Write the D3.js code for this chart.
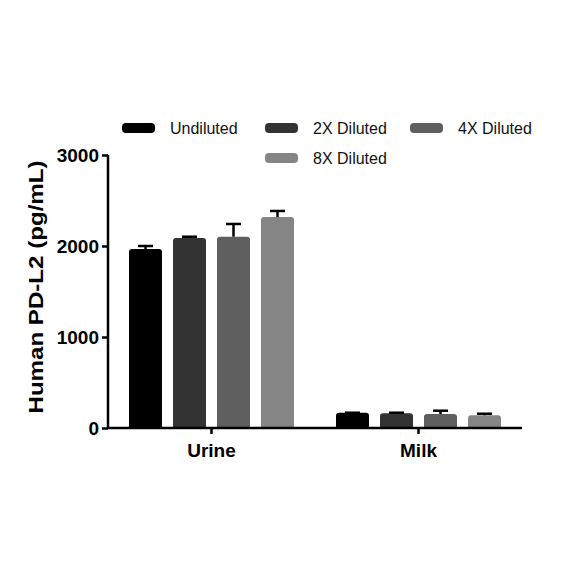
<!DOCTYPE html>
<html>
<head>
<meta charset="utf-8">
<script src="https://cdn.jsdelivr.net/npm/d3@7/dist/d3.min.js"></script>
<style>
  body { margin: 0; background: #fff; }
  text { font-family: "Liberation Sans", Arial, sans-serif; }
</style>
</head>
<body>
<script>
// data
var groups = ["Urine", "Milk"];
var series = ["Undiluted", "2X Diluted", "4X Diluted", "8X Diluted"];
var means  = [[1967, 2088, 2102, 2319], [168, 161, 154, 140]];
var errors = [[33, 14, 140, 66], [0, 7, 36, 17]];
var yTicks = [0, 1000, 2000, 3000];

var colors = ["#000000", "#333333", "#5f5f5f", "#858585"];

var width = 584, height = 584;

var svg = d3.select("body").append("svg")
    .attr("width", width)
    .attr("height", height);

var x0 = d3.scaleBand()
    .domain(groups)
    .range([108, 522]);

var y = d3.scaleLinear()
    .domain([0, 3000])
    .range([428, 155]);

// bars within a group
var x1 = d3.scaleBand()
    .domain(series)
    .range([-88, 88])
    .paddingInner(0.25)
    .paddingOuter(0.125);

var g = svg.selectAll(".group")
    .data(groups)
  .enter().append("g")
    .attr("class", "group")
    .attr("transform", function(d) { return "translate(" + (x0(d) + x0.bandwidth() / 2) + ",0)"; });

g.each(function(grp, gi) {
    var sel = d3.select(this);
    series.forEach(function(s, si) {
        var v = means[gi][si], e = errors[gi][si];
        var bx = x1(s), bw = x1.bandwidth();
        var top = y(v), bottom = y(0);
        var r = 3;
        // bar with slightly rounded top corners
        sel.append("path")
            .attr("d", "M" + bx + "," + bottom +
                       "V" + (top + r) +
                       "Q" + bx + "," + top + " " + (bx + r) + "," + top +
                       "H" + (bx + bw - r) +
                       "Q" + (bx + bw) + "," + top + " " + (bx + bw) + "," + (top + r) +
                       "V" + bottom + "Z")
            .attr("fill", colors[si]);
        // error bar (upper only)
        var cx = bx + bw / 2;
        if (e > 0) {
            sel.append("line")
                .attr("x1", cx).attr("x2", cx)
                .attr("y1", top).attr("y2", y(v + e))
                .attr("stroke", "#000").attr("stroke-width", 2.5);
        }
        sel.append("line")
            .attr("x1", cx - 7.5).attr("x2", cx + 7.5)
            .attr("y1", y(v + e)).attr("y2", y(v + e))
            .attr("stroke", "#000").attr("stroke-width", 2.5);
    });
});

// y axis
var yAxis = svg.append("g")
    .attr("transform", "translate(108,0)")
    .call(d3.axisLeft(y).tickValues(yTicks).tickSize(6).tickPadding(3).tickFormat(d3.format("d")));
yAxis.select(".domain").attr("stroke-width", 2.5).attr("d", "M0," + y(3000) + "V" + (y(0) + 1));
yAxis.selectAll(".tick line").attr("stroke-width", 2.5);
yAxis.selectAll(".tick text")
    .attr("font-size", 19)
    .attr("font-weight", "bold")
    .attr("fill", "#000")
    .style("font-family", "'Liberation Sans', Arial, sans-serif");

// x axis
var xAxis = svg.append("g")
    .attr("transform", "translate(0," + y(0) + ")")
    .call(d3.axisBottom(x0).tickSize(6).tickPadding(10).tickSizeOuter(0));
xAxis.select(".domain").attr("stroke-width", 2.5).attr("d", "M107,0H522");
xAxis.selectAll(".tick line").attr("stroke-width", 2.5);
xAxis.selectAll(".tick text")
    .attr("font-size", 19)
    .attr("font-weight", "bold")
    .attr("fill", "#000")
    .style("font-family", "'Liberation Sans', Arial, sans-serif");

// y title
svg.append("text")
    .attr("transform", "translate(43,287) rotate(-90)")
    .attr("text-anchor", "middle")
    .attr("font-size", 21)
    .attr("font-weight", "bold")
    .attr("textLength", 253)
    .attr("lengthAdjust", "spacingAndGlyphs")
    .text("Human PD-L2 (pg/mL)");

// legend
var legendPos = [[122, 128], [265, 128], [410, 128], [265, 158]];
var legend = svg.selectAll(".legend")
    .data(series)
  .enter().append("g")
    .attr("class", "legend")
    .attr("transform", function(d, i) { return "translate(" + legendPos[i][0] + "," + legendPos[i][1] + ")"; });

legend.append("rect")
    .attr("x", 0).attr("y", -5)
    .attr("width", 33).attr("height", 10)
    .attr("rx", 4)
    .attr("fill", function(d, i) { return colors[i]; });

legend.append("text")
    .attr("x", 48)
    .attr("dy", "0.35em")
    .attr("font-size", 16)
    .attr("fill", "#111")
    .text(function(d) { return d; });
</script>
</body>
</html>
